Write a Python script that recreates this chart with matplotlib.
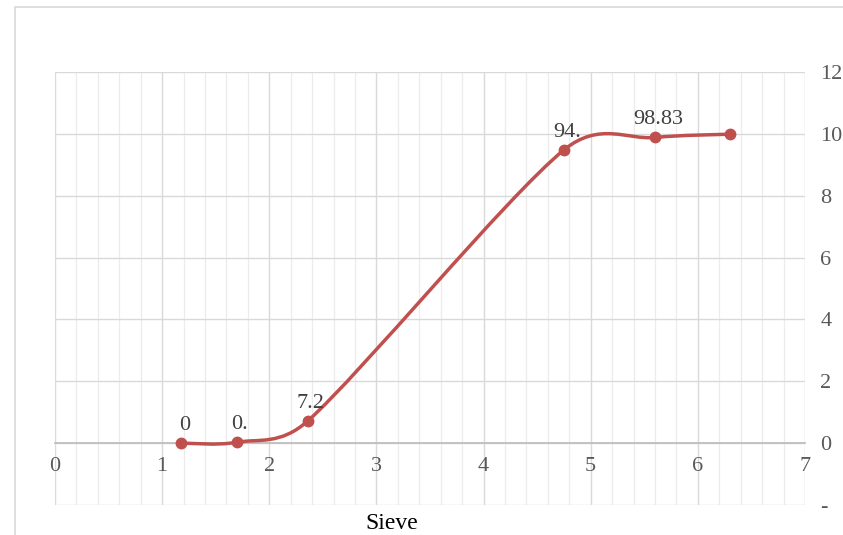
import numpy as np
import matplotlib
matplotlib.use('Agg')
import matplotlib.pyplot as plt
from matplotlib.path import Path
from matplotlib.patches import PathPatch, Rectangle

# data
sieve = [1.18, 1.7, 2.36, 4.75, 5.6, 6.3]
passing = [0.0, 0.3, 7.2, 94.8, 98.83, 99.9]
point_labels = ['0', '0.', '7.2', '94.', '98.83', '']
x_ticks = [0, 1, 2, 3, 4, 5, 6, 7]
y_ticks = [-20, 0, 20, 40, 60, 80, 100, 120]
y_ticklabels = ['-', '0', '2', '4', '6', '8', '10', '12']

red = '#c0504d'
grid_c = '#d9d9d9'
font = 'Liberation Serif'


def smooth_path(ax, xs, ys):
    # excel style smoothed line: bezier, neighbour tangents /6,
    # control arm capped at half the segment length (screen space)
    p = np.column_stack([xs, ys]).astype(float)
    ext = np.vstack([p[0], p, p[-1]])
    scr = ax.transData.transform(ext)

    def arm(i0, i1, seg_a, seg_b):
        full = np.hypot(*(scr[i1] - scr[i0]))
        seg = np.hypot(*(scr[seg_b] - scr[seg_a]))
        if full == 0:
            return 0.0
        return min(1 / 6.0, seg / 2.0 / full)

    verts = [p[0]]
    codes = [Path.MOVETO]
    for i in range(len(p) - 1):
        a, b, c, d = ext[i], ext[i + 1], ext[i + 2], ext[i + 3]
        f1 = arm(i, i + 2, i + 1, i + 2)
        f2 = arm(i + 1, i + 3, i + 1, i + 2)
        verts += [b + (c - a) * f1, c - (d - b) * f2, c]
        codes += [Path.CURVE4] * 3
    return Path(verts, codes)


fig = plt.figure(figsize=(8.43, 5.35), dpi=100)
ax = fig.add_axes([55 / 843, 30 / 535, 750 / 843, 433 / 535])

# outer chart frame
fig.add_artist(Rectangle((15 / 843, -0.1), 1.2, 0.1 + (535 - 7) / 535,
                         transform=fig.transFigure, fill=False,
                         edgecolor=grid_c, linewidth=1.2))

ax.set_xlim(0, 7)
ax.set_ylim(-20, 120)
ax.set_xticks(x_ticks)
ax.set_xticks(np.arange(0, 7.01, 0.2), minor=True)
ax.set_yticks(y_ticks)
ax.set_yticklabels(y_ticklabels)
ax.grid(which='major', color=grid_c, linewidth=1.0)
ax.grid(which='minor', axis='x', color='#ececec', linewidth=0.9)
ax.set_axisbelow(True)

for s in ['top', 'right', 'left']:
    ax.spines[s].set_visible(False)
ax.spines['bottom'].set_position(('data', 0))
ax.spines['bottom'].set_color('#bfbfbf')
ax.spines['bottom'].set_linewidth(1.3)

ax.yaxis.tick_right()
ax.tick_params(axis='both', which='both', length=0)
ax.tick_params(axis='x', pad=10, labelsize=16, labelcolor='#595959')
ax.tick_params(axis='y', pad=11, labelsize=16, labelcolor='#595959')
for lab in ax.get_xticklabels() + ax.get_yticklabels():
    lab.set_family(font)

ax.add_patch(PathPatch(smooth_path(ax, sieve, passing), facecolor='none',
                       edgecolor=red, linewidth=2.5, zorder=3))
ax.plot(sieve, passing, linestyle='none', marker='o', markersize=7.5,
        color=red, zorder=4)

for x, y, t in zip(sieve, passing, point_labels):
    if t:
        ax.annotate(t, (x, y), xytext=(2, 6), textcoords='offset points',
                    ha='center', va='bottom', fontsize=16, color='#404040',
                    family=font)

fig.text(392 / 843, 6 / 535, 'Sieve', fontsize=17, family=font,
         color='#000000', ha='center', va='baseline')

plt.savefig('out.png', dpi=100)
